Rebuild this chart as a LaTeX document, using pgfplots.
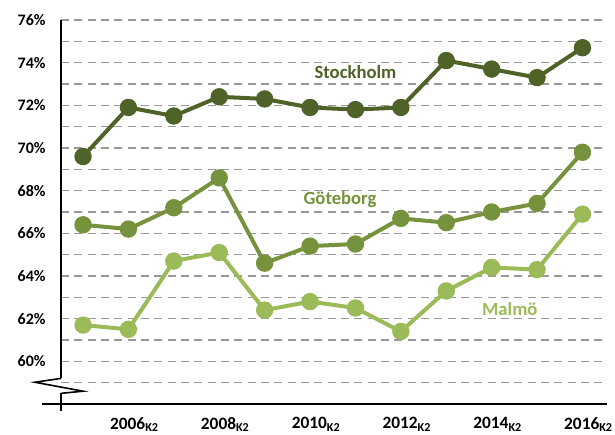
\documentclass[border=0pt]{standalone}
\usepackage{fontspec}
\setmainfont{Carlito}
\usepackage{pgfplots}
\pgfplotsset{compat=1.18}

\definecolor{sthlm}{HTML}{4F6228}
\definecolor{gbg}{HTML}{76923C}
\definecolor{malmo}{HTML}{9BBB59}

\begin{document}
\begin{tikzpicture}
\begin{axis}[
    scale only axis,
    width=409.5pt, height=288pt,
    xmin=-0.485, xmax=11.54,
    ymin=58, ymax=76,
    axis line style={draw=none},
    clip=false,
    xtick={1,3,5,7,9,11},
    xticklabels={2006\textsubscript{K2},2008\textsubscript{K2},2010\textsubscript{K2},2012\textsubscript{K2},2014\textsubscript{K2},2016\textsubscript{K2}},
    ytick={60,62,...,76},
    minor ytick={59,61,...,75},
    yticklabel={\pgfmathprintnumber{\tick}\%},
    /pgf/number format/assume math mode=true,
    major tick length=0pt, minor tick length=0pt,
    ymajorgrids, yminorgrids,
    major grid style={gray!80, line width=0.9pt, dash pattern=on 6pt off 4pt},
    minor grid style={gray!80, line width=0.9pt, dash pattern=on 6pt off 4pt},
    tick label style={font=\fontsize{12}{14}\selectfont\bfseries},
    xticklabel style={font=\fontsize{13}{15}\selectfont\bfseries, yshift=-6.5pt, xshift=4.5pt},
    yticklabel style={xshift=-8pt},
    every axis plot/.append style={line width=3pt, mark=*, mark size=5pt},
]
% x = year - 2005
\addplot[sthlm, mark options={fill=sthlm}] coordinates {
(0,69.6) (1,71.9) (2,71.5) (3,72.4) (4,72.3) (5,71.9)
(6,71.8) (7,71.9) (8,74.1) (9,73.7) (10,73.3) (11,74.7)};
\addplot[gbg, mark options={fill=gbg}] coordinates {
(0,66.4) (1,66.2) (2,67.2) (3,68.6) (4,64.6) (5,65.4)
(6,65.5) (7,66.7) (8,66.5) (9,67.0) (10,67.4) (11,69.8)};
\addplot[malmo, mark options={fill=malmo}] coordinates {
(0,61.7) (1,61.5) (2,64.7) (3,65.1) (4,62.4) (5,62.8)
(6,62.5) (7,61.4) (8,63.3) (9,64.4) (10,64.3) (11,66.9)};

\node[sthlm, font=\fontsize{14}{16}\selectfont\bfseries] at (axis cs:6.0,73.57) {Stockholm};
\node[gbg, font=\fontsize{14}{16}\selectfont\bfseries] at (axis cs:5.66,67.58) {Göteborg};
\node[malmo, font=\fontsize{14}{16}\selectfont\bfseries] at (axis cs:9.4,62.43) {Malmö};

% axes with break
\draw[black, line width=1.5pt] (axis cs:-0.485,76) -- (axis cs:-0.485,59.2);
\draw[black, line width=1.2pt] (axis cs:-0.485,59.2) -- (axis cs:-1.06,59.02)
   -- (axis cs:0,58.6) -- (axis cs:-0.485,58.5);
\draw[black, line width=1.5pt] (axis cs:-0.485,58.5) -- ([yshift=-5pt]axis cs:-0.485,58);
\draw[black, line width=1.5pt] ([xshift=-14pt]axis cs:-0.485,58) -- (axis cs:11.54,58);
\end{axis}
\pgfresetboundingbox
\path[use as bounding box] (current axis.south west) ++(-45.75pt,-23.25pt) rectangle ++(461.25pt,326.25pt);
\end{tikzpicture}
\end{document}
